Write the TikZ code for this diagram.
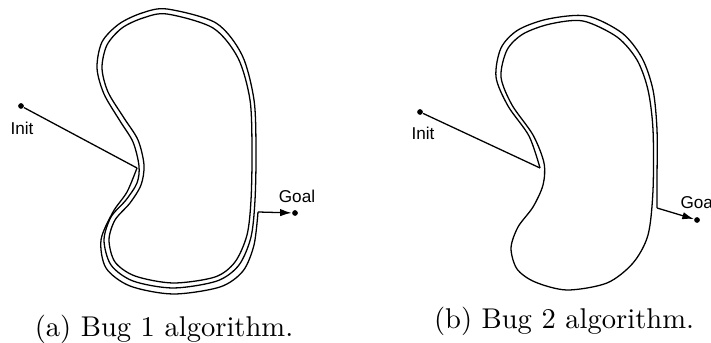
\documentclass[tikz,border=0pt]{standalone}
\usepackage{fontspec}
\newfontfamily\labelfont{Liberation Sans}
\usetikzlibrary{arrows.meta}
\tikzset{
  pt/.style={circle,fill=black,inner sep=0pt,minimum size=2pt},
  lbl/.style={font=\labelfont\fontsize{6}{7}\selectfont,inner sep=0pt},
  capt/.style={font=\normalsize,inner sep=0pt},
  obst/.style={line width=0.45pt},
  trail/.style={line width=0.45pt,line join=round},
  go/.style={line width=0.45pt,-{Latex[length=4pt,width=2.6pt]}}
}
\begin{document}
\begin{tikzpicture}[x=0.35pt,y=-0.35pt]
\clip (0,0) rectangle (711,343);
% (a) Bug 1
\draw[obst] plot[smooth cycle] coordinates {(167,14) (213,28) (238,58) (250,100) (252,150) (251,200) (247,235) (235,262) (215,277) (173,283) (135,276) (115,262) (109,240) (115,220) (130,203) (141,185) (144,165) (138,140) (124,118) (108,92) (102,68) (107,45) (122,28) (143,18)};
\draw[trail] plot[smooth cycle] coordinates {(167,9) (216,23) (242,55) (254,100) (256,150) (255,200) (251,237) (239,265) (217,281) (173,288) (133,281) (111,265) (104,240) (111,217) (126,200) (137,183) (139,166) (133,142) (120,121) (104,94) (97,68) (102,42) (119,24) (142,13)};
\coordinate (hitA) at (137,168);
\coordinate (leaveA) at (258,212);
\node[pt] (initA) at (21,106) {};
\node[pt] (goalA) at (295,213) {};
\draw[trail] (initA) -- (hitA);
\draw[trail] plot[smooth] coordinates {(hitA) (127,192) (113,212) (101,240) (106,268) (130,286) (173,294) (220,287) (243,271) (254,245) (leaveA)};
\draw[go] (leaveA) -- (goalA);
\node[lbl] (initlblA) at (22,128) {Init};
\node[lbl] (goallblA) at (297,196) {Goal};
\node[capt] (captA) at (164,329) {(a) Bug 1 algorithm.};
% (b) Bug 2
\draw[obst] plot[smooth cycle] coordinates {(583,21) (617,37) (637,60) (648,90) (653,130) (653,190) (648,235) (633,263) (607,283) (567,290) (535,282) (517,269) (511,248) (518,227) (533,207) (543,185) (544,163) (533,135) (512,105) (501,77) (507,50) (523,34) (550,24)};
\coordinate (hitB) at (540,168);
\coordinate (leaveB) at (657,208);
\node[pt] (initB) at (420,112) {};
\node[pt] (goalB) at (697,220) {};
\draw[trail] (initB) -- (hitB);
\draw[trail] plot[smooth] coordinates {(hitB) (529,136) (508,106) (496,77) (501,48) (518,30) (548,19) (587,16) (622,33) (642,58) (653,90) (657,130) (657,180) (leaveB)};
\draw[go] (leaveB) -- (goalB);
\node[lbl] (initlblB) at (423,133) {Init};
\node[lbl,anchor=west] (goallblB) at (680,202) {Goal};
\node[capt] (captB) at (564,321) {(b) Bug 2 algorithm.};
\end{tikzpicture}
\end{document}
